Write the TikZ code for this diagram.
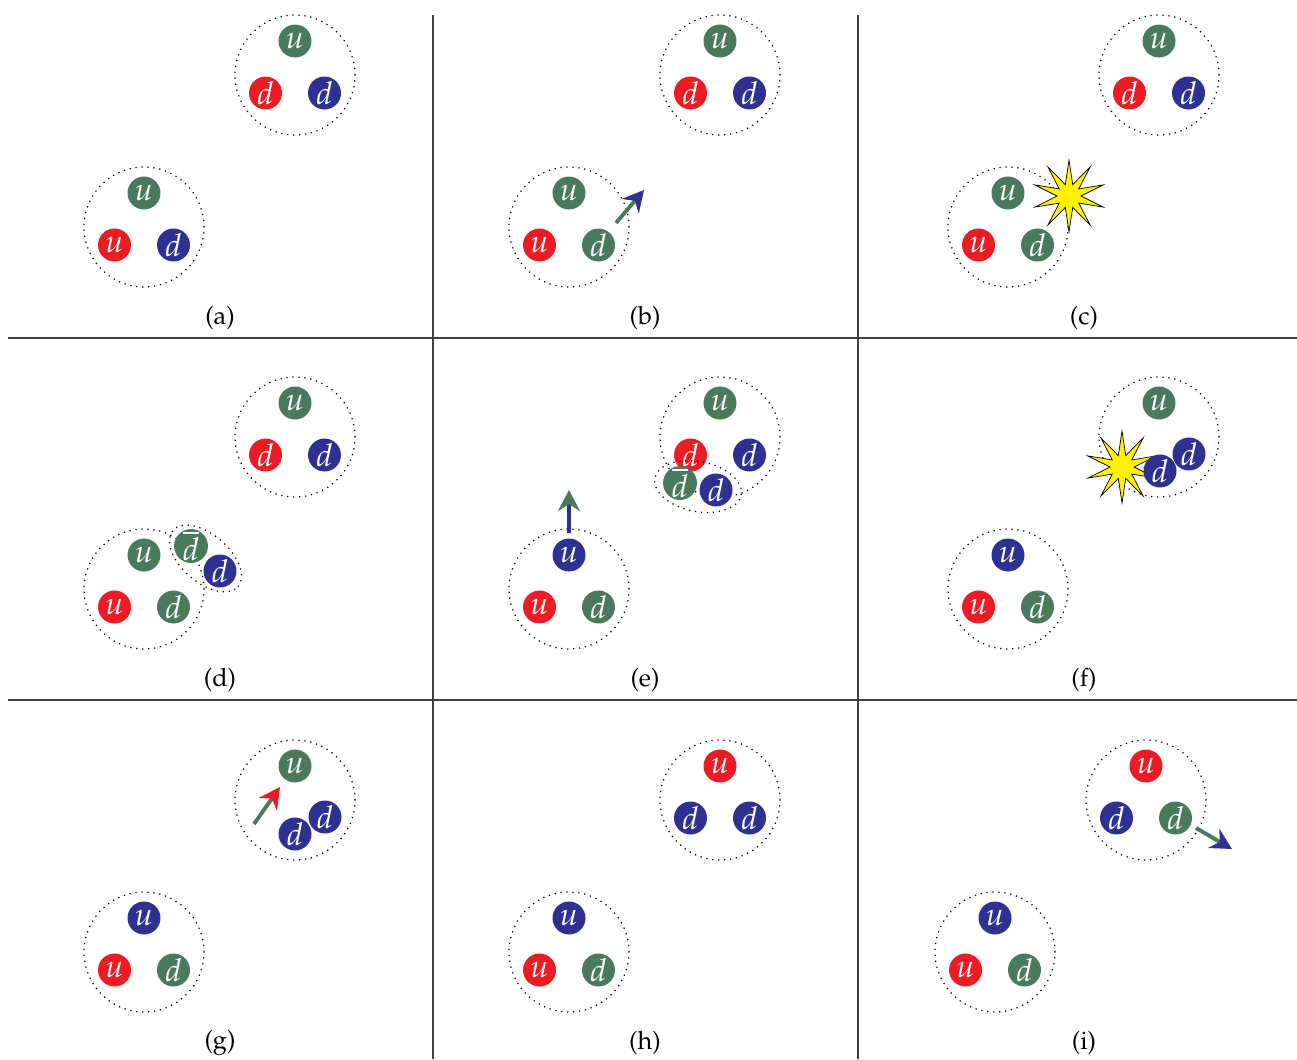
\documentclass[tikz,border=0pt]{standalone}
\usepackage[T1]{fontenc}
\usepackage{mathpazo}
\usetikzlibrary{arrows.meta,shapes.geometric}
\definecolor{qgreen}{RGB}{74,122,92}
\definecolor{qred}{RGB}{237,28,36}
\definecolor{qblue}{RGB}{46,49,146}
\definecolor{flash}{RGB}{255,242,0}
\tikzset{
	quark/.style={circle,fill=#1,text=white,minimum size=0.66cm,inner sep=0pt,font=\fontsize{18}{18}\selectfont},
	hadron/.style={circle,draw,line width=0.7pt,dash pattern=on 0.7pt off 2.7pt,minimum size=2.4cm,inner sep=0pt},
	meson/.style={ellipse,draw,line width=0.7pt,dash pattern=on 0.7pt off 2.7pt,inner sep=0pt},
	flashstar/.style={star,star points=10,star point ratio=3,minimum size=1.44cm,inner sep=0pt,fill=flash,draw=black,line width=0.4pt},
	kick/.style 2 args={draw=#1,line width=2.2pt,-{Stealth[length=0.42cm,width=0.44cm,color=#2]}},
	rule/.style={line width=0.7pt,black!75},
	caption/.style={font=\Large},
}
% a baryon: name, centre, then colour and flavour of the three quarks
\newcommand{\baryon}[8]{%
	\node[hadron] (#1) at (#2) {};
	\path (#1.center) ++(0,-34) node[quark=#3] (#1-1) {$#4$};
	\path (#1.center) ++(-29.5,18) node[quark=#5] (#1-2) {$#6$};
	\path (#1.center) ++(29.5,18) node[quark=#7] (#1-3) {$#8$};}

\begin{document}
\begin{tikzpicture}[x=0.02cm,y=-0.02cm]
	\useasboundingbox (0,0) rectangle (1297,1059);
	
	\draw[rule] (433,15) -- (433,1059);
	\draw[rule] (858,15) -- (858,1059);
	\draw[rule] (8,338) -- (1297,338);
	\draw[rule] (8,700) -- (1297,700);
	
	% (a)
	\begin{scope}
		\baryon{a1}{295,75}{qgreen}{u}{qred}{d}{qblue}{d}
		\baryon{a2}{144,227}{qgreen}{u}{qred}{u}{qblue}{d}
		\node[caption] (a) at (220,318) {(a)};
	\end{scope}
	
	% (b)
	\begin{scope}[shift={(425,0)}]
		\baryon{b1}{295,75}{qgreen}{u}{qred}{d}{qblue}{d}
		\baryon{b2}{144,227}{qgreen}{u}{qred}{u}{qgreen}{d}
		\coordinate (b-from) at (191,223);
		\coordinate (b-to) at (219,190);
		\draw[kick={qgreen}{qblue}] (b-from) -- (b-to);
		\node[caption] (b) at (220,318) {(b)};
	\end{scope}
	
	% (c)
	\begin{scope}[shift={(864,0)}]
		\baryon{c1}{295,75}{qgreen}{u}{qred}{d}{qblue}{d}
		\baryon{c2}{144,227}{qgreen}{u}{qred}{u}{qgreen}{d}
		\node[flashstar] (c-hit) at (205,196) {};
		\node[caption] (c) at (220,318) {(c)};
	\end{scope}
	
	% (d)
	\begin{scope}[shift={(0,362)}]
		\baryon{d1}{295,75}{qgreen}{u}{qred}{d}{qblue}{d}
		\baryon{d2}{144,227}{qgreen}{u}{qred}{u}{qgreen}{d}
		\node[quark=qgreen] (d-dbar) at (191,184) {$\overline{d}$};
		\node[quark=qblue] (d-d) at (220,209) {$d$};
		\node[meson,minimum width=1.72cm,minimum height=0.95cm,rotate=-40.8] (d-pair) at (205.5,196.5) {};
		\node[caption] (d) at (220,318) {(d)};
	\end{scope}
	
	% (e)
	\begin{scope}[shift={(425,362)}]
		\baryon{e1}{295,75}{qgreen}{u}{qred}{d}{qblue}{d}
		\node[quark=qgreen] (e-dbar) at (255,121) {$\overline{d}$};
		\node[quark=qblue] (e-d) at (291,128) {$d$};
		\node[meson,minimum width=1.76cm,minimum height=1.0cm,rotate=-11] (e-pair) at (273,124.5) {};
		\baryon{e2}{144,227}{qblue}{u}{qred}{u}{qgreen}{d}
		\coordinate (e-from) at (144,171);
		\coordinate (e-to) at (144,128);
		\draw[kick={qblue}{qgreen}] (e-from) -- (e-to);
		\node[caption] (e) at (220,318) {(e)};
	\end{scope}
	
	% (f)
	\begin{scope}[shift={(864,362)}]
		\node[hadron] (f1) at (295,75) {};
		\node[quark=qgreen] (f1-1) at (295,41) {$u$};
		\node[quark=qblue] (f1-3) at (325,92) {$d$};
		\node[flashstar] (f-hit) at (258,105) {};
		\node[quark=qblue] (f1-2) at (296,109) {$d$};
		\baryon{f2}{144,227}{qblue}{u}{qred}{u}{qgreen}{d}
		\node[caption] (f) at (220,318) {(f)};
	\end{scope}
	
	% (g)
	\begin{scope}[shift={(0,725)}]
		\node[hadron] (g1) at (295,75) {};
		\node[quark=qgreen] (g1-1) at (295,41) {$u$};
		\node[quark=qblue] (g1-3) at (325,92) {$d$};
		\node[quark=qblue] (g1-2) at (295,109) {$d$};
		\coordinate (g-from) at (254,99);
		\coordinate (g-to) at (280,62);
		\draw[kick={qgreen}{qred}] (g-from) -- (g-to);
		\baryon{g2}{144,227}{qblue}{u}{qred}{u}{qgreen}{d}
		\node[caption] (g) at (220,318) {(g)};
	\end{scope}
	
	% (h)
	\begin{scope}[shift={(425,725)}]
		\baryon{h1}{295,75}{qred}{u}{qblue}{d}{qblue}{d}
		\baryon{h2}{144,227}{qblue}{u}{qred}{u}{qgreen}{d}
		\node[caption] (h) at (220,318) {(h)};
	\end{scope}
	
	% (i)
	\begin{scope}[shift={(851,725)}]
		\baryon{i1}{295,75}{qred}{u}{qblue}{d}{qgreen}{d}
		\baryon{i2}{144,227}{qblue}{u}{qred}{u}{qgreen}{d}
		\coordinate (i-from) at (345,103);
		\coordinate (i-to) at (381,124);
		\draw[kick={qgreen}{qblue}] (i-from) -- (i-to);
		\node[caption] (i) at (233,318) {(i)};
	\end{scope}
\end{tikzpicture}
\end{document}
